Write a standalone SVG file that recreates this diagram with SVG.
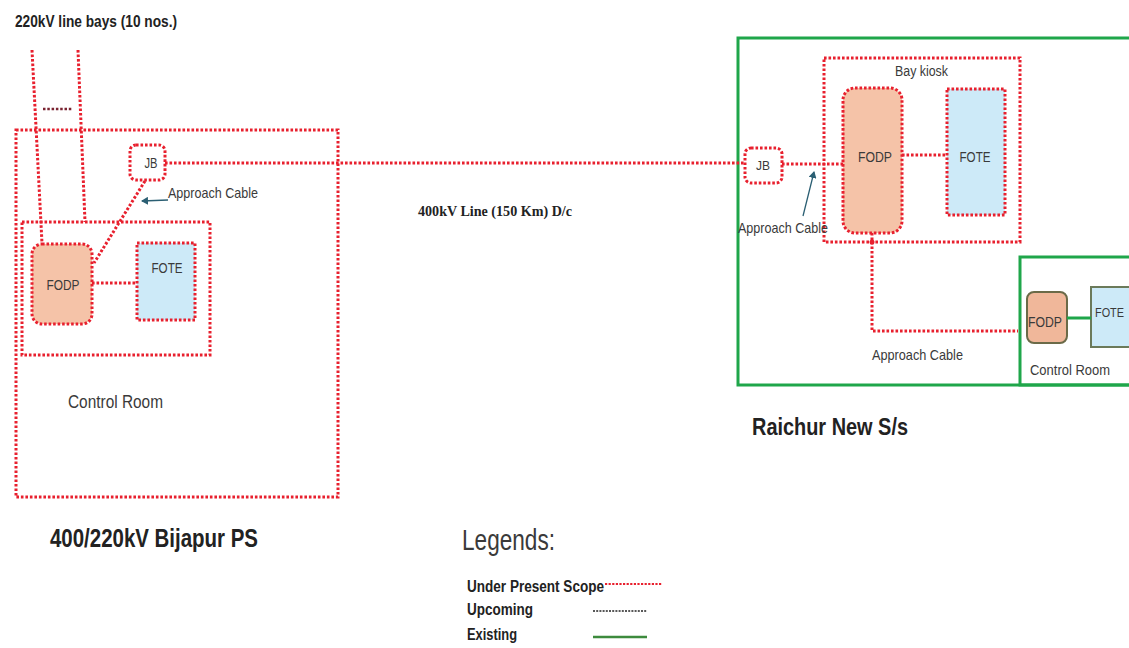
<svg xmlns="http://www.w3.org/2000/svg" width="1129" height="648" viewBox="0 0 1129 648">
<style>
.bg{fill:#ffffff}
.red{fill:none;stroke:#e8202e;stroke-width:3;stroke-dasharray:2.6 1.9}
.redbox{stroke:#e8202e;stroke-width:3;stroke-dasharray:2.6 1.9}
.green{fill:none;stroke:#1fa64a;stroke-width:3}
.peach{fill:#f5c3a8}
.blue{fill:#cdeaf8}
.t{font-family:"Liberation Sans",Arial,sans-serif;fill:#3a3a3a}
.b{font-family:"Liberation Sans",Arial,sans-serif;font-weight:bold;fill:#222}
.serif{font-family:"Liberation Serif","Times New Roman",serif;font-weight:bold;fill:#222}
.arrow{fill:none;stroke:#2b5f73;stroke-width:1.3}
</style>
<defs>
<marker id="ah" markerWidth="8" markerHeight="8" refX="6" refY="4" orient="auto" markerUnits="userSpaceOnUse">
<path d="M0,0 L7,4 L0,8 z" fill="#2b5f73"/>
</marker>
</defs>
<rect class="bg" x="0" y="0" width="1129" height="648"/>

<g id="bijapur">
<rect class="red" x="16" y="130" width="322" height="367"/>
<text class="b" x="15" y="27" font-size="16" textLength="162" lengthAdjust="spacingAndGlyphs">220kV line bays (10 nos.)</text>
<text class="b" x="50" y="547" font-size="25" textLength="208" lengthAdjust="spacingAndGlyphs">400/220kV  Bijapur PS</text>
<text class="t" x="68" y="408" font-size="18" textLength="95" lengthAdjust="spacingAndGlyphs">Control Room</text>
</g>

<g id="bijapur-control-room">
<rect class="red" x="22" y="222" width="188" height="133"/>
</g>

<g id="jb-left">
<rect class="red" x="130" y="145" width="35" height="35" rx="6"/>
<text class="t" x="151" y="168" text-anchor="middle" font-size="14" textLength="13" lengthAdjust="spacingAndGlyphs">JB</text>
</g>

<g id="fodp-left">
<rect class="peach redbox" x="32" y="244" width="60" height="80" rx="10"/>
<text class="t" x="63" y="290" text-anchor="middle" font-size="15" textLength="33" lengthAdjust="spacingAndGlyphs">FODP</text>
</g>

<g id="fote-left">
<rect class="blue redbox" x="137" y="243" width="58" height="77"/>
<text class="t" x="167" y="273" text-anchor="middle" font-size="15" textLength="31" lengthAdjust="spacingAndGlyphs">FOTE</text>
</g>

<g id="raichur">
<rect class="green" x="738" y="38" width="400" height="347"/>
<text class="b" x="752" y="435" font-size="24" textLength="156" lengthAdjust="spacingAndGlyphs">Raichur New S/s</text>
</g>

<g id="bay-kiosk">
<rect class="red" x="824" y="58" width="196" height="184"/>
<text class="t" x="895" y="76" font-size="14" textLength="53" lengthAdjust="spacingAndGlyphs">Bay kiosk</text>
</g>

<g id="jb-right">
<rect class="red" x="745" y="148" width="37" height="35" rx="6"/>
<text class="t" x="763" y="170" text-anchor="middle" font-size="13" textLength="14" lengthAdjust="spacingAndGlyphs">JB</text>
</g>

<g id="fodp-right">
<rect class="peach redbox" x="843" y="88" width="59" height="145" rx="12"/>
<text class="t" x="875" y="162" text-anchor="middle" font-size="15" textLength="34" lengthAdjust="spacingAndGlyphs">FODP</text>
</g>

<g id="fote-right">
<rect class="blue redbox" x="947" y="89" width="58" height="126"/>
<text class="t" x="975" y="162" text-anchor="middle" font-size="15" textLength="31" lengthAdjust="spacingAndGlyphs">FOTE</text>
</g>

<g id="raichur-control-room">
<rect class="green" x="1020" y="257" width="120" height="128"/>
<text class="t" x="1030" y="375" font-size="15" textLength="80" lengthAdjust="spacingAndGlyphs">Control Room</text>
</g>

<g id="fodp-existing">
<rect fill="#f0b79a" stroke="#6b6a48" stroke-width="2" x="1027" y="292" width="40" height="51" rx="7"/>
<text class="t" x="1045" y="327" text-anchor="middle" font-size="14" textLength="34" lengthAdjust="spacingAndGlyphs">FODP</text>
</g>

<g id="fote-existing">
<rect fill="#cdeaf8" stroke="#6b7a5a" stroke-width="2" x="1091" y="287" width="45" height="60"/>
<text class="t" x="1095" y="317" font-size="13" textLength="29" lengthAdjust="spacingAndGlyphs">FOTE</text>
</g>

<g id="connectors">
<path class="red" d="M32,50 L42,243"/>
<path class="red" d="M78,50 L85,222"/>
<path d="M43,109 L73,109" fill="none" stroke="#7a2331" stroke-width="2.5" stroke-dasharray="2.5 1.8"/>
<path class="red" d="M165,163 L745,163"/>
<path class="red" d="M145,181 L94,263"/>
<path class="red" d="M92,283 L137,283"/>
<path class="arrow" d="M168,200 L142,201" marker-end="url(#ah)"/>
<path class="red" d="M782,164 L843,164"/>
<path class="red" d="M902,155 L947,155"/>
<path class="red" d="M872,233 L872,331 L1018,331"/>
<path class="arrow" d="M803,216 L814,172" marker-end="url(#ah)"/>
<path class="green" d="M1067,318 L1091,318"/>
<circle cx="872" cy="242" r="2.5" fill="#e8202e"/>
</g>

<g id="labels">
<text class="t" x="168" y="198" font-size="15" textLength="90" lengthAdjust="spacingAndGlyphs">Approach Cable</text>
<text class="serif" x="418" y="216" font-size="14" textLength="154" lengthAdjust="spacingAndGlyphs">400kV  Line (150 Km)  D/c</text>
<text class="t" x="738" y="233" font-size="15" textLength="90" lengthAdjust="spacingAndGlyphs">Approach Cable</text>
<text class="t" x="872" y="360" font-size="15" textLength="91" lengthAdjust="spacingAndGlyphs">Approach Cable</text>
</g>

<g id="legend">
<text class="t" x="462" y="550" font-size="30" textLength="93" lengthAdjust="spacingAndGlyphs">Legends:</text>
<text class="b" x="467" y="592" font-size="16" textLength="137" lengthAdjust="spacingAndGlyphs">Under Present Scope</text>
<path d="M605,584 L662,584" fill="none" stroke="#e8202e" stroke-width="2" stroke-dasharray="2.2 1.4"/>
<text class="b" x="467" y="615" font-size="16" textLength="66" lengthAdjust="spacingAndGlyphs">Upcoming</text>
<path d="M593,611 L647,611" fill="none" stroke="#222" stroke-width="1.5" stroke-dasharray="2 1.2"/>
<text class="b" x="467" y="640" font-size="16" textLength="50" lengthAdjust="spacingAndGlyphs">Existing</text>
<path d="M593,637 L647,637" fill="none" stroke="#3d8b3d" stroke-width="2.5"/>
</g>
</svg>
